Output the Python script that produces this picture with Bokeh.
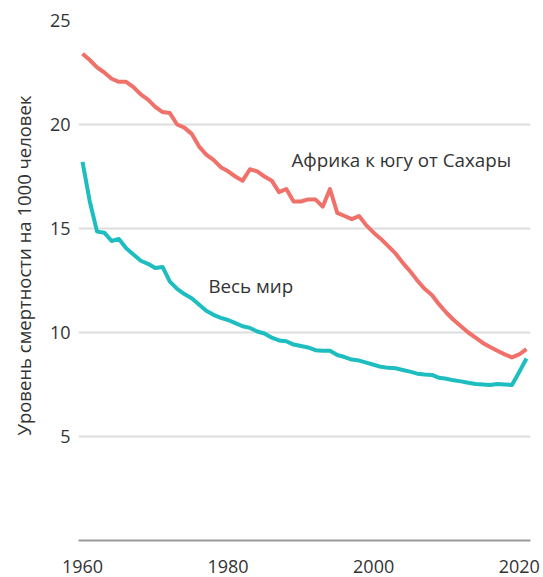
from bokeh.plotting import figure
from bokeh.models import Range1d, Label, FixedTicker, Title
from bokeh.embed import file_html
from bokeh.resources import INLINE

years = list(range(1960, 2022))

africa = [23.4, 23.1, 22.75, 22.5, 22.2, 22.05, 22.05, 21.8, 21.45, 21.2,
          20.85, 20.6, 20.55, 20.0, 19.85, 19.55, 18.95, 18.55, 18.3, 17.95,
          17.75, 17.5, 17.3, 17.85, 17.75, 17.5, 17.3, 16.75, 16.9, 16.3,
          16.3, 16.4, 16.4, 16.05, 16.9, 15.75, 15.6, 15.45, 15.6, 15.15,
          14.8, 14.5, 14.15, 13.8, 13.35, 12.95, 12.5, 12.1, 11.8, 11.35,
          10.95, 10.6, 10.3, 10.0, 9.75, 9.5, 9.3, 9.12, 8.95, 8.8,
          8.95, 9.2]

world = [18.2, 16.3, 14.85, 14.8, 14.4, 14.5, 14.05, 13.75, 13.45, 13.3,
         13.1, 13.15, 12.45, 12.1, 11.85, 11.65, 11.35, 11.05, 10.85, 10.7,
         10.6, 10.45, 10.3, 10.22, 10.05, 9.95, 9.75, 9.62, 9.58, 9.42,
         9.35, 9.28, 9.15, 9.12, 9.12, 8.92, 8.82, 8.7, 8.65, 8.55,
         8.45, 8.35, 8.3, 8.28, 8.2, 8.12, 8.02, 7.98, 7.96, 7.82,
         7.78, 7.7, 7.65, 7.58, 7.52, 7.5, 7.48, 7.52, 7.5, 7.48,
         8.1, 8.75]

x_ticks = [1960, 1980, 2000, 2020]
y_ticks = [5, 10, 15, 20, 25]

y_title = "Уровень смертности на 1000 человек"
label_africa = "Африка к югу от Сахары"
label_world = "Весь мир"

FONT = "Open Sans"
TXT = "#333333"

p = figure(width=541, height=576, output_backend="svg", toolbar_location=None,
           x_range=Range1d(1959.45, 2021.55), y_range=Range1d(0, 25),
           min_border_left=78, min_border_right=11, min_border_top=20,
           min_border_bottom=36)
p.outline_line_color = None
p.background_fill_color = "white"

p.xgrid.grid_line_color = None
p.ygrid.grid_line_color = "#dddddd"
p.ygrid.grid_line_width = 2

p.xaxis.ticker = FixedTicker(ticks=x_ticks)
p.yaxis.ticker = FixedTicker(ticks=y_ticks)
for ax in (p.xaxis[0], p.yaxis[0]):
    ax.major_tick_line_color = None
    ax.minor_tick_line_color = None
    ax.major_label_text_font = FONT
    ax.major_label_text_font_size = "18px"
    ax.major_label_text_color = TXT
p.yaxis.axis_line_color = None
p.yaxis.major_tick_out = 0
p.yaxis.major_tick_in = 0
p.yaxis.minor_tick_out = 0
p.yaxis.axis_label_standoff = 0
p.yaxis.major_label_standoff = 8
p.xaxis.axis_line_color = "#999999"
p.xaxis.axis_line_width = 2
p.xaxis.major_label_standoff = 13

p.line(years, africa, line_color="#F0706A", line_width=4, line_join="round")
p.line(years, world, line_color="#1DBDC0", line_width=4, line_join="round")

p.add_layout(Label(x=1988.7, y=18.28, text=label_africa, text_font=FONT,
                   text_font_size="18.8px", text_color=TXT,
                   text_baseline="alphabetic"))
p.add_layout(Label(x=1977.3, y=12.23, text=label_world, text_font=FONT,
                   text_font_size="18.8px", text_color=TXT,
                   text_baseline="alphabetic"))

title = Title(text=y_title, align="left", offset=105, standoff=18,
              vertical_align="top",
              text_font=FONT, text_font_size="18.5px", text_color=TXT,
              text_font_style="normal")
p.add_layout(title, "left")

open("out.html", "w").write(file_html(p, INLINE))
